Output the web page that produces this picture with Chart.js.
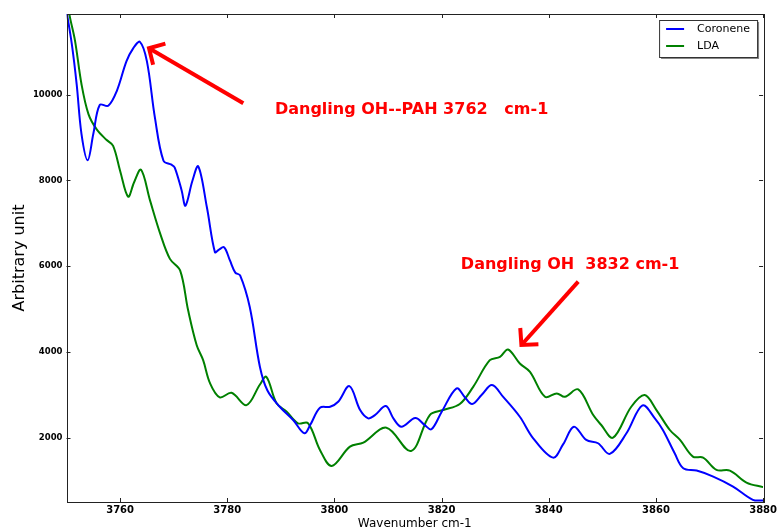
<!DOCTYPE html>
<html>
<head>
<meta charset="utf-8">
<script src="https://cdn.jsdelivr.net/npm/chart.js@4"></script>
<style>
html, body { margin: 0; background: #fff; }
#wrap { width: 779px; height: 531px; }
</style>
</head>
<body>
<div id="wrap"><canvas id="spec"></canvas></div>
<script>
// values
const coroneneX = [3750, 3751.0, 3751.9, 3752.8, 3753.95, 3755.0, 3756.2, 3757.8, 3759.4, 3761.2, 3762.5, 3763.7, 3765.0, 3766.5, 3768.1, 3769.6, 3770.2, 3771.5, 3772.2, 3773.5, 3774.6, 3776.2, 3777.7, 3778.4, 3779.4, 3780.5, 3781.5, 3782.4, 3784.2, 3786.1, 3787.5, 3789.8, 3792.3, 3794.4, 3795.5, 3797.3, 3799.2, 3800.7, 3802.8, 3804.8, 3806.3, 3807.5, 3809.6, 3811.0, 3812.5, 3815.1, 3816.8, 3818.1, 3820.0, 3822.8, 3824.3, 3825.7, 3827.5, 3829.4, 3831.5, 3834.6, 3837.1, 3840.8, 3842.7, 3844.7, 3847.0, 3849.2, 3851.4, 3854.5, 3857.5, 3859.8, 3861.3, 3863.5, 3865.1, 3867.6, 3870.7, 3874.4, 3878.1, 3880];
const coroneneY = [11950, 11170, 10240, 9080, 8470, 9080, 9760, 9740, 10090, 10780, 11090, 11230, 10780, 9465, 8458, 8365, 8300, 7760, 7410, 7990, 8326, 7372, 6326, 6380, 6440, 6133, 5850, 5784, 5047, 3650, 3100, 2721, 2412, 2102, 2300, 2698, 2721, 2837, 3202, 2644, 2451, 2520, 2737, 2450, 2256, 2458, 2300, 2195, 2600, 3149, 2950, 2784, 3000, 3226, 2950, 2488, 1986, 1535, 1850, 2256, 1947, 1870, 1621, 2102, 2753, 2451, 2179, 1637, 1288, 1233, 1093, 860, 551, 535];

const ldaX = [3750, 3750.6, 3751.6, 3752.8, 3754.1, 3755.6, 3757.5, 3758.7, 3760.0, 3761.5, 3762.6, 3763.9, 3765.6, 3767.5, 3769.3, 3771.2, 3772.7, 3774.3, 3775.5, 3776.8, 3778.6, 3780.8, 3783.6, 3786.1, 3787.3, 3789.2, 3791.1, 3793.2, 3795.1, 3797.3, 3799.5, 3802.9, 3805.4, 3809.7, 3814.3, 3817.8, 3820.3, 3823.4, 3825.9, 3829.0, 3830.9, 3832.4, 3834.6, 3836.5, 3839.3, 3841.5, 3843.0, 3845.5, 3848.3, 3849.8, 3852.0, 3855.4, 3857.9, 3860.1, 3862.6, 3864.5, 3866.9, 3868.8, 3871.3, 3873.8, 3876.9, 3880];
const ldaY = [12300, 11830, 11249, 10242, 9544, 9195, 8940, 8807, 8226, 7621, 7950, 8249, 7528, 6753, 6170, 5900, 4970, 4156, 3807, 3265, 2940, 3047, 2760, 3240, 3419, 2800, 2605, 2335, 2335, 1714, 1342, 1791, 1884, 2233, 1690, 2528, 2644, 2784, 3186, 3807, 3884, 4056, 3730, 3535, 2953, 3033, 2953, 3126, 2528, 2295, 2000, 2721, 2993, 2644, 2179, 1947, 1558, 1535, 1249, 1233, 953, 847];

const xTicks = [3760, 3780, 3800, 3820, 3840, 3860, 3880];
const yTicks = [2000, 4000, 6000, 8000, 10000];

const notes = [
  { text: "Dangling OH--PAH 3762   cm-1", x: 3788.9, y: 9557 },
  { text: "Dangling OH  3832 cm-1", x: 3823.6, y: 5935 }
];
const arrows = [
  { from: [3783.0, 9799], to: [3765.4, 11082] },
  { from: [3845.5, 5638], to: [3834.9, 4162] }
];

const toPoints = (xs, ys) => xs.map((x, i) => ({ x, y: ys[i] }));

// box + inward ticks on all four sides
const frame = {
  id: "frame",
  afterDatasetsDraw(chart) {
    const { ctx, chartArea: a, scales } = chart;
    ctx.save();
    ctx.strokeStyle = "#222";
    ctx.lineWidth = 1;
    ctx.beginPath();
    xTicks.forEach(v => {
      const px = Math.round(scales.x.getPixelForValue(v)) + 0.5;
      ctx.moveTo(px, a.bottom); ctx.lineTo(px, a.bottom - 4);
      ctx.moveTo(px, a.top); ctx.lineTo(px, a.top + 4);
    });
    yTicks.forEach(v => {
      const py = Math.round(scales.y.getPixelForValue(v)) + 0.5;
      ctx.moveTo(a.left, py); ctx.lineTo(a.left + 4, py);
      ctx.moveTo(a.right, py); ctx.lineTo(a.right - 4, py);
    });
    ctx.stroke();
    ctx.strokeRect(Math.round(a.left) + 0.5, Math.round(a.top) + 0.5, Math.round(a.right - a.left), Math.round(a.bottom - a.top));
    ctx.restore();
  }
};

// red notes with arrows
const notesPlugin = {
  id: "notes",
  afterDatasetsDraw(chart) {
    const { ctx, scales } = chart;
    ctx.save();
    ctx.fillStyle = "#ff0000";
    ctx.strokeStyle = "#ff0000";
    ctx.font = "bold 16px 'DejaVu Sans'";
    ctx.textBaseline = "alphabetic";
    notes.forEach(n => {
      ctx.fillText(n.text, scales.x.getPixelForValue(n.x), scales.y.getPixelForValue(n.y));
    });
    ctx.lineWidth = 4;
    ctx.lineCap = "butt";
    arrows.forEach(ar => {
      const x0 = scales.x.getPixelForValue(ar.from[0]), y0 = scales.y.getPixelForValue(ar.from[1]);
      const x1 = scales.x.getPixelForValue(ar.to[0]), y1 = scales.y.getPixelForValue(ar.to[1]);
      const ang = Math.atan2(y0 - y1, x0 - x1);
      ctx.beginPath();
      ctx.moveTo(x0, y0); ctx.lineTo(x1, y1);
      ctx.stroke();
      ctx.beginPath();
      ctx.moveTo(x1 + 17 * Math.cos(ang - 0.8), y1 + 17 * Math.sin(ang - 0.8));
      ctx.lineTo(x1, y1);
      ctx.lineTo(x1 + 17 * Math.cos(ang + 0.8), y1 + 17 * Math.sin(ang + 0.8));
      ctx.stroke();
    });
    ctx.restore();
  }
};

// legend box in the upper right corner
const boxLegend = {
  id: "boxLegend",
  afterDraw(chart) {
    const { ctx, chartArea: a } = chart;
    const w = 98, h = 37;
    const x = a.right - 6 - w, y = a.top + 6;
    ctx.save();
    ctx.fillStyle = "#888";
    ctx.fillRect(x + 2, y + 2, w, h);
    ctx.fillStyle = "#fff";
    ctx.fillRect(x, y, w, h);
    ctx.strokeStyle = "#333";
    ctx.lineWidth = 1;
    ctx.strokeRect(x + 0.5, y + 0.5, w, h);
    ctx.font = "11px 'DejaVu Sans'";
    ctx.textBaseline = "middle";
    chart.data.datasets.forEach((d, i) => {
      const ly = y + 9 + i * 17;
      ctx.strokeStyle = d.borderColor;
      ctx.lineWidth = 2;
      ctx.beginPath();
      ctx.moveTo(x + 7, ly); ctx.lineTo(x + 25, ly);
      ctx.stroke();
      ctx.fillStyle = "#000";
      ctx.fillText(d.label, x + 38, ly);
    });
    ctx.restore();
  }
};

new Chart(document.getElementById("spec"), {
  type: "line",
  data: {
    datasets: [
      { label: "Coronene", data: toPoints(coroneneX, coroneneY), borderColor: "#0000ff", borderWidth: 2, pointRadius: 0, tension: 0.35, fill: false },
      { label: "LDA", data: toPoints(ldaX, ldaY), borderColor: "#008000", borderWidth: 2, pointRadius: 0, tension: 0.35, fill: false }
    ]
  },
  options: {
    responsive: true,
    maintainAspectRatio: false,
    animation: false,
    layout: { padding: { left: 0, right: 15, top: 14, bottom: 0 } },
    plugins: { legend: { display: false }, tooltip: { enabled: false } },
    scales: {
      x: {
        type: "linear",
        min: 3750,
        max: 3880,
        afterBuildTicks: s => { s.ticks = xTicks.map(v => ({ value: v })); },
        afterFit: s => { s.height = 29; },
        grid: { display: false, drawTicks: false },
        border: { display: false },
        ticks: { color: "#000", padding: 2, font: { family: "DejaVu Sans", size: 10, weight: "bold" }, callback: v => String(v) },
        title: { display: true, text: "Wavenumber cm-1", color: "#000", padding: { top: 0, bottom: 0 }, font: { family: "DejaVu Sans", size: 12 } }
      },
      y: {
        type: "linear",
        min: 500,
        max: 11880,
        afterBuildTicks: s => { s.ticks = yTicks.map(v => ({ value: v })); },
        afterFit: s => { s.width = 66.5; },
        grid: { display: false, drawTicks: false },
        border: { display: false },
        ticks: { color: "#000", padding: 4, font: { family: "DejaVu Sans", size: 8.5, weight: "bold" }, callback: v => String(v) },
        title: { display: true, text: "Arbitrary unit", color: "#000", padding: { top: 10, bottom: 0 }, font: { family: "DejaVu Sans", size: 16 } }
      }
    }
  },
  plugins: [frame, notesPlugin, boxLegend]
});
</script>
</body>
</html>
